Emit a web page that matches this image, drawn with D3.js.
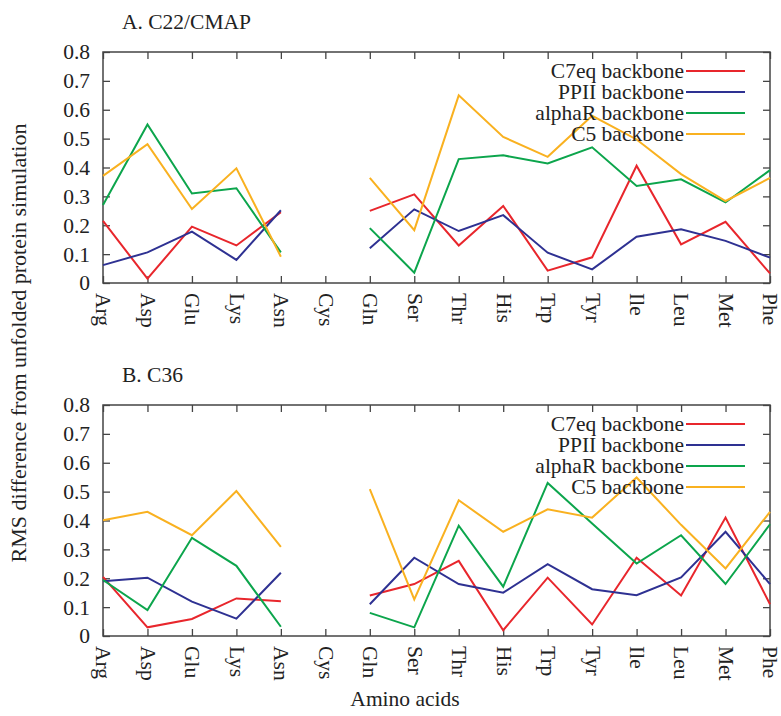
<!DOCTYPE html>
<html>
<head>
<meta charset="utf-8">
<script src="https://cdn.jsdelivr.net/npm/d3@7"></script>
<style>
  body { margin: 0; background: #fff; }
  text { font-family: "Liberation Serif", "DejaVu Serif", serif; fill: #222; }
</style>
</head>
<body>
<svg id="chart" width="781" height="716"></svg>
<script>
const aminoAcids = ["Arg", "Asp", "Glu", "Lys", "Asn", "Cys", "Gln", "Ser", "Thr", "His", "Trp", "Tyr", "Ile", "Leu", "Met", "Phe"];
const yTicks = [0, 0.1, 0.2, 0.3, 0.4, 0.5, 0.6, 0.7, 0.8];
const seriesNames = ["C7eq backbone", "PPII backbone", "alphaR backbone", "C5 backbone"];
const seriesColors = ["#e8262c", "#2e3192", "#0ca54c", "#f9b120"];

// panel A, C22/CMAP (Cys has no data)
const c22C7eq = [0.215, 0.015, 0.195, 0.13, 0.245, null, 0.25, 0.307, 0.13, 0.267, 0.043, 0.089, 0.406, 0.134, 0.212, 0.033];
const c22PPII = [0.062, 0.106, 0.178, 0.08, 0.252, null, 0.12, 0.255, 0.18, 0.235, 0.105, 0.047, 0.16, 0.186, 0.146, 0.088];
const c22AlphaR = [0.27, 0.549, 0.31, 0.328, 0.106, null, 0.19, 0.036, 0.429, 0.442, 0.414, 0.47, 0.336, 0.359, 0.279, 0.391];
const c22C5 = [0.371, 0.481, 0.256, 0.397, 0.091, null, 0.364, 0.183, 0.65, 0.506, 0.437, 0.579, 0.497, 0.377, 0.284, 0.364];

// panel B, C36
const c36C7eq = [0.205, 0.03, 0.059, 0.13, 0.12, null, 0.14, 0.18, 0.26, 0.02, 0.202, 0.04, 0.271, 0.14, 0.41, 0.11];
const c36PPII = [0.19, 0.202, 0.119, 0.06, 0.219, null, 0.11, 0.271, 0.18, 0.15, 0.249, 0.162, 0.141, 0.203, 0.361, 0.18];
const c36AlphaR = [0.194, 0.09, 0.34, 0.243, 0.032, null, 0.08, 0.03, 0.382, 0.171, 0.53, 0.39, 0.251, 0.349, 0.18, 0.387];
const c36C5 = [0.401, 0.43, 0.349, 0.502, 0.309, null, 0.509, 0.127, 0.47, 0.361, 0.439, 0.41, 0.549, 0.385, 0.234, 0.43];

const panels = [
  { title: "A. C22/CMAP", top: 52, series: [c22C7eq, c22PPII, c22AlphaR, c22C5] },
  { title: "B. C36", top: 405, series: [c36C7eq, c36PPII, c36AlphaR, c36C5] }
];

const svg = d3.select("#chart");
const left = 103, right = 770, plotH = 231;
const tickLen = 7;
const fontSize = 21.5;

const x = d3.scalePoint()
  .domain(aminoAcids)
  .range([left, right]);

panels.forEach((p) => {
  const y = d3.scaleLinear()
    .domain([0, 0.8])
    .range([p.top + plotH, p.top]);

  const g = svg.append("g");

  // title
  g.append("text")
    .attr("x", 122)
    .attr("y", p.top - 23)
    .attr("font-size", fontSize)
    .text(p.title);

  // left axis with labels, ticks pointing in
  const yAxis = g.append("g")
    .attr("transform", "translate(" + left + ",0)")
    .call(d3.axisLeft(y).tickValues(yTicks).tickSize(-tickLen).tickPadding(13)
      .tickFormat((d) => d === 0 ? "0" : d3.format(".1f")(d)));
  yAxis.selectAll("text").attr("font-size", fontSize).attr("font-family", null);

  // right mirror ticks
  g.append("g")
    .attr("transform", "translate(" + right + ",0)")
    .call(d3.axisRight(y).tickValues(yTicks).tickSize(-tickLen).tickFormat(""));

  // bottom axis with rotated category labels
  const xAxis = g.append("g")
    .attr("transform", "translate(0," + (p.top + plotH) + ")")
    .call(d3.axisBottom(x).tickSize(-tickLen).tickPadding(0));
  xAxis.selectAll("text")
    .attr("font-size", fontSize)
    .attr("font-family", null)
    .attr("text-anchor", "start")
    .attr("transform", "rotate(90)")
    .attr("x", 10)
    .attr("y", 0)
    .attr("dy", "0.33em");

  // top mirror ticks
  g.append("g")
    .attr("transform", "translate(0," + p.top + ")")
    .call(d3.axisTop(x).tickSize(-tickLen).tickFormat(""));

  g.selectAll(".domain").remove();
  g.selectAll(".tick line").attr("stroke", "#444").attr("stroke-width", 1.3);

  g.append("rect")
    .attr("x", left)
    .attr("y", p.top)
    .attr("width", right - left)
    .attr("height", plotH)
    .attr("fill", "none")
    .attr("stroke", "#444")
    .attr("stroke-width", 1.5);

  const line = d3.line()
    .defined((d) => d !== null)
    .x((d, i) => x(aminoAcids[i]))
    .y((d) => y(d));

  p.series.forEach((vals, k) => {
    g.append("path")
      .datum(vals)
      .attr("fill", "none")
      .attr("stroke", seriesColors[k])
      .attr("stroke-width", 2)
      .attr("d", line);
  });

  // legend
  seriesNames.forEach((name, k) => {
    const ly = p.top + 19 + k * 21;
    g.append("text")
      .attr("x", 684)
      .attr("y", ly)
      .attr("dy", "0.33em")
      .attr("text-anchor", "end")
      .attr("font-size", fontSize)
      .text(name);
    g.append("line")
      .attr("x1", 686)
      .attr("x2", 745)
      .attr("y1", ly)
      .attr("y2", ly)
      .attr("stroke", seriesColors[k])
      .attr("stroke-width", 2);
  });
});

// axis titles
svg.append("text")
  .attr("transform", "translate(26,343) rotate(-90)")
  .attr("text-anchor", "middle")
  .attr("font-size", 22)
  .text("RMS difference from unfolded protein simulation");

svg.append("text")
  .attr("x", 405)
  .attr("y", 706)
  .attr("text-anchor", "middle")
  .attr("font-size", fontSize)
  .text("Amino acids");
</script>
</body>
</html>
